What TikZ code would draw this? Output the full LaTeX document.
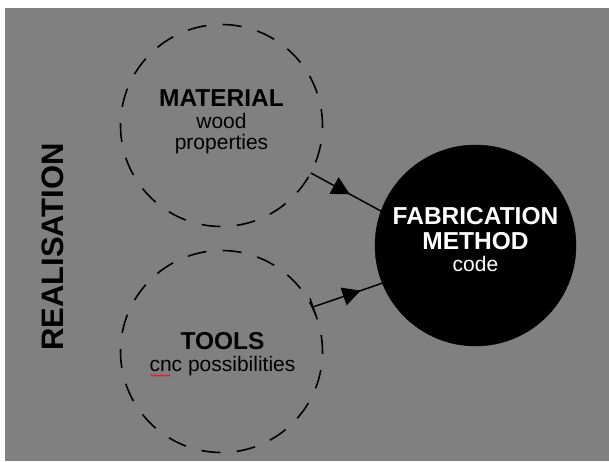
\documentclass[tikz,border=0pt]{standalone}
\usepackage{fontspec}
\setmainfont{Liberation Sans}
\usepackage{tikz}
\usetikzlibrary{positioning, arrows.meta, decorations.markings, decorations.pathmorphing}

\definecolor{bggray}{RGB}{128,128,128}

\begin{document}
\begin{tikzpicture}[x=1pt, y=1pt,
    every node/.style={inner sep=0pt, outer sep=0pt},
    field/.style={circle, draw, line width=1.6pt, minimum size=202pt,
        dash pattern=on 19pt off 16.26pt, dash phase=2.5pt},
    core/.style={circle, fill=black, draw=black, minimum size=201pt},
    conn/.style={line width=1.5pt},
    small/.style={font=\fontsize{21}{21.5}\selectfont, align=center, anchor=base}]

    % 0. 背景
    \useasboundingbox (0,0) rectangle (609,461);
    \fill[bggray] (5,0) rectangle (609,453);

    % 1. 三个圆
    \node[field] (mat) at (221.5,335.5) {};
    \node[field] (tools) at (221.5,109.5) {};
    \node[core] (fab) at (475.5,215.5) {};

    % 圆内文字 (基线 = 最后一行)
    \node[small] (matT) at (221.5,311.3)
        {{\bfseries\fontsize{24.5}{21.5}\selectfont MATERIAL}\\wood\\properties};
    \node[small] (toolsT) at (222.5,89.3)
        {{\bfseries\fontsize{24.5}{21.5}\selectfont TOOLS}\\[1.2pt]cnc possibilities};
    \node[small, text=white] (fabT) at (475.5,190)
        {{\bfseries\fontsize{24.5}{21.5}\selectfont FABRICATION}\\[3.5pt]%
         {\bfseries\fontsize{24.5}{21.5}\selectfont METHOD}\\[0.5pt]code};

    % 拼写检查波浪线
    \draw[red, line width=0.6pt, decorate,
        decoration={snake, amplitude=0.8pt, segment length=3pt}] (150.5,85.5) -- (170,85.5);

    % 2. 左侧标题
    \node[font=\bfseries\fontsize{31}{31}\selectfont, rotate=90] (title) at (52.5,214) {REALISATION};

    % 3. 连接线
    \draw[conn, postaction={decorate}, decoration={markings,
        mark=at position 0.557 with {\arrow{Triangle[length=18pt, width=18.5pt]}}}]
        (mat.-28) -- (fab.160);
    \draw[conn, {Bar[width=18pt]}-, postaction={decorate}, decoration={markings,
        mark=at position 0.69 with {\arrow{Triangle[length=18pt, width=18.5pt]}}}]
        (tools.26) -- (fab.-158);

\end{tikzpicture}
\end{document}
